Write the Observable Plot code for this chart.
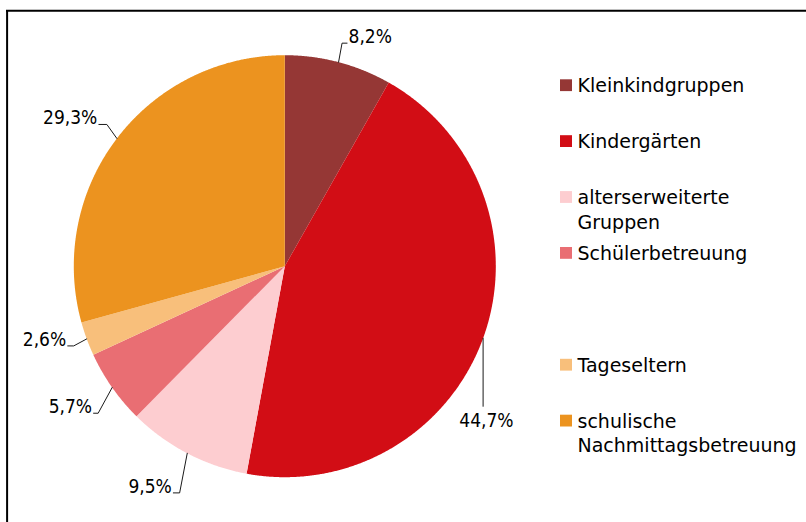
<!DOCTYPE html>
<html><head><meta charset="utf-8">
<script src="https://cdn.jsdelivr.net/npm/d3@7"></script>
<script src="https://cdn.jsdelivr.net/npm/@observablehq/plot@0.6"></script>
<style>body{margin:0;background:#fff}</style>
</head><body><div id="chart"></div>
<script>
// ---- data ----
const categories = ["Kleinkindgruppen","Kindergärten","alterserweiterte Gruppen","Schülerbetreuung","Tageseltern","schulische Nachmittagsbetreuung"];
const shares = [8.2, 44.7, 9.5, 5.7, 2.6, 29.3];
const valueLabels = ["8,2%","44,7%","9,5%","5,7%","2,6%","29,3%"];
const legendLabels = ["Kleinkindgruppen","Kindergärten","alterserweiterte\nGruppen","Schülerbetreuung","Tageseltern","schulische\nNachmittagsbetreuung"];
const colors = ["#953735","#d20d15","#fdcdd0","#e96e73","#f8bf7b","#ec931f"];

// ---- layout ----
const W = 806, H = 522;
const cx = 284.3, cy = 265.7, R = 211;
const labelLayout = [
  {dx: 3.5, dy: -19, tail: 5, anchor: "start"},
  {dx: 0, dy: 68, tail: 0, anchor: "middle"},
  {dx: -7.6, dy: 39.6, tail: -6.3, anchor: "end"},
  {dx: -14, dy: 25.7, tail: -4.6, anchor: "end"},
  {dx: -13, dy: 7, tail: -6, anchor: "end"},
  {dx: -10, dy: -14, tail: -8, anchor: "end"}
];
const legendSlots = [0, 1, 2, 3, 5, 6];
const legendTop = 91.7, legendStep = 55.9;
const legendFont = 19, legendLH = 1.29;

const data = categories.map((c, i) => ({cat: c, share: shares[i], label: valueLabels[i], legend: legendLabels[i], i}));
const arcs = d3.pie().sort(null).value(d => d.share)(data);
const pt = (a, r) => [cx + r * Math.sin(a), cy - r * Math.cos(a)];

// slice outlines
const slicePts = [];
for (const a of arcs) {
  slicePts.push({cat: a.data.cat, x: cx, y: cy});
  const n = Math.max(2, Math.ceil((a.endAngle - a.startAngle) / (Math.PI / 720)));
  for (let k = 0; k <= n; k++) {
    const t = a.startAngle + (a.endAngle - a.startAngle) * k / n;
    const [x, y] = pt(t, R);
    slicePts.push({cat: a.data.cat, x, y});
  }
  slicePts.push({cat: a.data.cat, x: cx, y: cy});
}

// leader lines + labels
const leaderPts = [], labelPos = [];
arcs.forEach((a, i) => {
  const L = labelLayout[i];
  const m = (a.startAngle + a.endAngle) / 2;
  const [ex, ey] = pt(m, R);
  const bx = ex + L.dx, by = ey + L.dy;
  leaderPts.push({k: i, x: ex, y: ey}, {k: i, x: bx, y: by});
  if (L.tail) leaderPts.push({k: i, x: bx + L.tail, y: by});
  if (L.anchor === "middle") labelPos.push({text: a.data.label, x: bx + 3.3, y: by + 21, anchor: "middle"});
  else labelPos.push({text: a.data.label, x: bx + L.tail + (L.tail > 0 ? 1.5 : -1.5), y: by, anchor: L.anchor});
});

// legend
const legendRows = data.map((d, j) => ({cat: d.cat, text: d.legend, base: legendTop + legendSlots[j] * legendStep}));

const labelMark = anchor => Plot.text(labelPos.filter(d => d.anchor === anchor), {
  x: "x", y: "y", text: "text", textAnchor: anchor, lineAnchor: "bottom",
  fontFamily: "DejaVu Sans Condensed", fontSize: 19, fill: "#000"
});

const chart = Plot.plot({
  width: W, height: H, margin: 0,
  x: {domain: [0, W], range: [0, W], axis: null},
  y: {domain: [0, H], range: [0, H], axis: null},
  color: {domain: categories, range: colors},
  style: {fontFamily: "DejaVu Sans", background: "#fff", overflow: "visible"},
  marks: [
    Plot.line(slicePts, {x: "x", y: "y", z: "cat", fill: "cat", stroke: null, curve: "linear"}),
    Plot.line(leaderPts, {x: "x", y: "y", z: "k", stroke: "#1a1a1a", strokeWidth: 1}),
    labelMark("start"),
    labelMark("end"),
    labelMark("middle"),
    Plot.rect(legendRows, {x1: 560, x2: 572, y1: d => d.base - 12.4, y2: d => d.base - 0.6, fill: "cat"}),
    Plot.text(legendRows, {
      x: 577, y: d => d.base - 0.71 * legendLH * legendFont, text: "text",
      textAnchor: "start", lineAnchor: "top", lineHeight: legendLH, fontSize: legendFont, fill: "#000"
    }),
    Plot.ruleY([10.2], {x1: 6, x2: W, stroke: "#000", strokeWidth: 2}),
    Plot.ruleX([6.6], {y1: 10, y2: H, stroke: "#000", strokeWidth: 2})
  ]
});
document.getElementById("chart").append(chart);
</script></body></html>
